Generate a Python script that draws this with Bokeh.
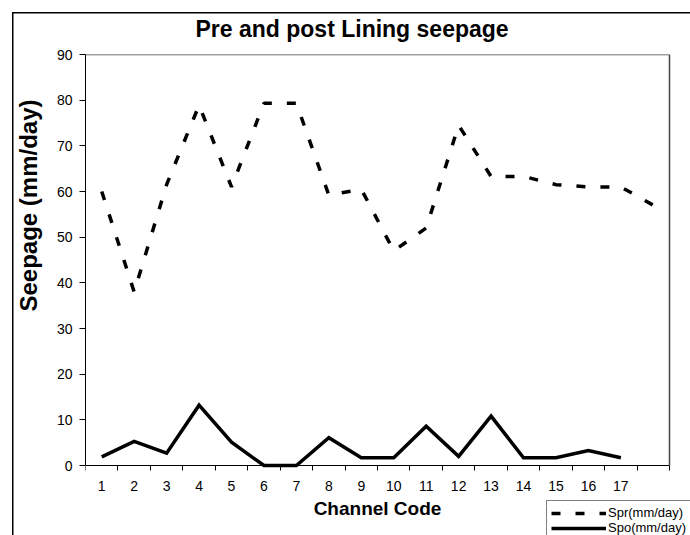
from bokeh.plotting import figure
from bokeh.models import (FixedTicker, Range1d, Legend, LegendItem, Title,
                          LinearAxis)
from bokeh.embed import file_html
from bokeh.resources import INLINE

# ---------------- data ----------------
title_text = "Pre and post Lining seepage"
x_label = "Channel Code"
y_label = "Seepage (mm/day)"
series_names = ["Spr(mm/day)", "Spo(mm/day)"]

channels = list(range(1, 19))                         # 18 category slots
channel_tick_labels = [str(i) for i in range(1, 18)]  # labels 1..17
spr = [60, 38, 61.5, 78.9, 61, 79.3, 79.3, 59.2, 60.5, 47, 52, 74.5,
       63.3, 63.3, 61.5, 61, 61, 57]
spo = [1.9, 5.3, 2.7, 13.2, 5.1, 0, 0, 6.1, 1.7, 1.7, 8.6, 2.0, 10.8,
       1.7, 1.7, 3.3, 1.7]
y_ticks = [0, 10, 20, 30, 40, 50, 60, 70, 80, 90]

FONT = "Liberation Sans"

# ---------------- layout (pixels) ----------------
W, H = 690, 535
PLOT_L, PLOT_R, PLOT_T, PLOT_B = 84, 669, 54, 465   # visible plot-area box

x0, x1 = 0.5, len(channels) + 0.5
y0, y1 = y_ticks[0], y_ticks[-1]
x_px = (PLOT_R - PLOT_L) / (x1 - x0)
y_px = (PLOT_B - PLOT_T) / (y1 - y0)
# the frame runs on to the right and bottom edges so the legend below
# the axis is not clipped; the plot-area box is drawn by bounded axes
x_end = x1 + (W - PLOT_R) / x_px
y_start = y0 - (H - PLOT_B) / y_px

p = figure(width=W, height=H, output_backend="svg", toolbar_location=None,
           x_range=Range1d(x0, x_end), y_range=Range1d(y_start, y1),
           min_border_left=PLOT_L, min_border_right=0,
           min_border_top=PLOT_T, min_border_bottom=0,
           background_fill_color="white", border_fill_alpha=0)

# outer chart border (left and top edges visible, as in the reference)
p.styles = {
    "background": ("linear-gradient(#000,#000) 12px 11.5px / 1.5px 100% no-repeat, "
                   "linear-gradient(#000,#000) 12px 11.5px / 100% 1.5px no-repeat, #fff"),
}

p.xgrid.visible = False
p.ygrid.visible = False
p.outline_line_color = None

# title
p.title.text = title_text
p.title.align = "left"
p.title.offset = 110
p.title.standoff = 26
p.title.text_font = FONT
p.title.text_font_size = "23px"
p.title.text_font_style = "bold"
p.title.text_color = "black"

# lines
r1 = p.line(x=channels, y=spr, line_color="black", line_width=3.5,
            line_dash="9 15", line_cap="butt")
r2 = p.line(x=channels[:len(spo)], y=spo, line_color="black",
            line_width=3.5, line_join="miter")

# x axis (sits at y = 0)
xa = p.xaxis[0]
xa.fixed_location = y0
xa.bounds = (x0, x1)
xa.ticker = FixedTicker(ticks=channels[:len(channel_tick_labels)],
                        minor_ticks=[c - 0.5 for c in channels] + [x1])
xa.major_label_overrides = {i + 1: lbl for i, lbl in enumerate(channel_tick_labels)}
xa.major_tick_out = 0
xa.major_tick_in = 0
xa.minor_tick_out = 5
xa.minor_tick_in = 0
xa.minor_tick_line_color = "black"
xa.axis_line_color = "black"
xa.major_label_standoff = 10
xa.major_label_text_font = FONT
xa.major_label_text_font_size = "14px"
xa.major_label_text_color = "black"
xa.axis_label = x_label
xa.axis_label_standoff = 4
xa.axis_label_text_font = FONT
xa.axis_label_text_font_size = "19px"
xa.axis_label_text_font_style = "bold"
xa.axis_label_text_color = "black"

# y axis
ya = p.yaxis[0]
ya.bounds = (y0, y1)
ya.ticker = FixedTicker(ticks=y_ticks)
ya.major_tick_out = 6
ya.major_tick_in = 0
ya.minor_tick_out = 0
ya.minor_tick_in = 0
ya.major_tick_line_color = "black"
ya.axis_line_color = "black"
ya.major_label_standoff = 7
ya.major_label_text_font = FONT
ya.major_label_text_font_size = "14px"
ya.major_label_text_color = "black"

# top and right edges of the plot area
border_kw = dict(ticker=FixedTicker(ticks=[]), axis_line_color="#444444",
                 axis_line_width=1.5, major_tick_out=0, major_tick_in=0,
                 minor_tick_out=0, minor_tick_in=0)
p.add_layout(LinearAxis(fixed_location=y1, bounds=(x0, x1), **border_kw), "above")
p.add_layout(LinearAxis(fixed_location=x1, bounds=(y0, y1), **border_kw), "right")

# y title, placed as a side-panel title so it can sit above centre
p.add_layout(Title(text=y_label, align="right", offset=45, standoff=24,
                   text_font=FONT, text_font_size="24px",
                   text_font_style="bold", text_color="black"), "left")

legend = Legend(items=[LegendItem(label=series_names[0], renderers=[r1]),
                       LegendItem(label=series_names[1], renderers=[r2])],
                location=(545 - PLOT_L, -5), orientation="vertical",
                border_line_color="black", border_line_width=1,
                background_fill_color="white", background_fill_alpha=1,
                padding=4, spacing=0, margin=0, glyph_width=55,
                glyph_height=10, label_standoff=2, label_height=10,
                label_text_font=FONT, label_text_font_size="13px",
                label_text_line_height=0.9,
                label_text_color="black")
p.add_layout(legend)

open("out.html", "w").write(file_html(p, INLINE))
